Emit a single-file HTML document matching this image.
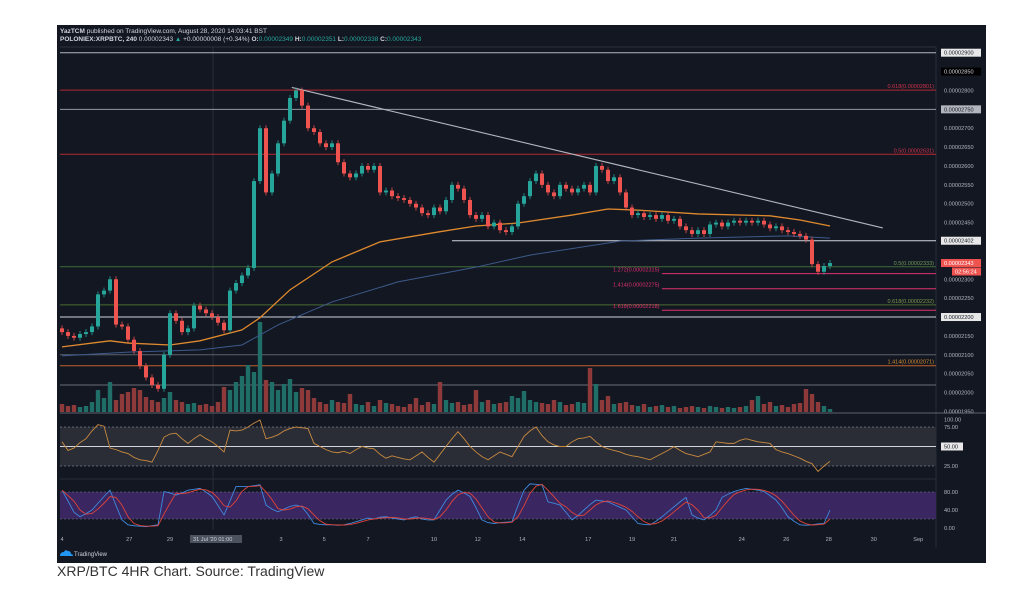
<!DOCTYPE html>
<html><head><meta charset="utf-8"><style>
html,body{margin:0;padding:0;background:#fff;width:1024px;height:613px;overflow:hidden}
svg{display:block}
.cap{position:absolute;left:57px;top:563px;font:14px "Liberation Sans",sans-serif;color:#333}
</style></head><body>
<svg id="chart" width="1024" height="613" font-family="Liberation Sans, sans-serif">
<rect x="57" y="25" width="929" height="538" fill="#131722"/>
<text x="60" y="33" font-size="6.5" fill="#d1d4dc"><tspan font-weight="bold">YazTCM</tspan> published on TradingView.com, August 28, 2020 14:03:41 BST</text>
<text x="60" y="41" font-size="6.5" fill="#d1d4dc"><tspan font-weight="bold">POLONIEX:XRPBTC, 240</tspan> 0.00002343 <tspan fill="#26a69a">▲</tspan> +0.00000008 (+0.34%) <tspan font-weight="bold">O:</tspan><tspan fill="#26a69a">0.00002349</tspan> <tspan font-weight="bold">H:</tspan><tspan fill="#26a69a">0.00002351</tspan> <tspan font-weight="bold">L:</tspan><tspan fill="#26a69a">0.00002338</tspan> <tspan font-weight="bold">C:</tspan><tspan fill="#26a69a">0.00002343</tspan></text>
<line x1="60" y1="47" x2="936" y2="47" stroke="#363a45" stroke-width="0.7"/>
<line x1="936" y1="47" x2="936" y2="548" stroke="#2a2e39" stroke-width="1"/>
<line x1="213" y1="47" x2="213" y2="530" stroke="#363a45" stroke-width="0.7"/>
<g id="g-levels"></g>
<g id="g-vol"></g>
<g id="g-ma"></g>
<g id="g-candles"></g>
<g id="g-axis"></g>
<g id="g-rsi"></g>
<g id="g-stoch"></g>
<g id="g-dates"></g>
<g>
<path d="M60 556 q0-4 4-4 q1-3 4-1 q3 0 3 3 q2 0 2 2 z" fill="#2196f3"/>
<text x="74" y="556" font-size="6" fill="#d1d4dc">TradingView</text>
</g>
</svg>
<div class="cap">XRP/BTC 4HR Chart. Source: TradingView</div>
<script>
const closes=[2160,2150,2145,2155,2160,2175,2260,2270,2300,2180,2175,2140,2110,2070,2040,2020,2010,2100,2210,2190,2160,2170,2230,2220,2210,2200,2185,2165,2270,2290,2310,2330,2560,2700,2530,2580,2660,2720,2780,2800,2760,2700,2690,2660,2650,2660,2610,2580,2570,2580,2600,2590,2600,2530,2535,2520,2515,2510,2500,2490,2475,2470,2490,2480,2510,2550,2540,2510,2470,2460,2470,2440,2450,2430,2425,2440,2500,2520,2560,2580,2550,2530,2520,2550,2540,2530,2540,2550,2530,2600,2590,2560,2570,2530,2490,2470,2475,2465,2470,2460,2470,2455,2460,2440,2430,2420,2430,2420,2445,2450,2440,2450,2455,2450,2455,2450,2455,2445,2435,2440,2430,2425,2420,2415,2405,2340,2320,2335,2343];
const firstOpen=2170;
const volumes=[8,6,7,5,6,10,22,14,30,12,18,20,24,22,15,12,10,14,20,12,10,8,9,7,8,6,10,25,22,30,36,47,40,90,32,30,22,28,33,20,24,22,14,10,8,12,10,9,18,8,7,10,6,12,9,8,6,5,8,14,7,10,8,30,12,9,10,7,8,22,10,12,8,9,10,16,14,21,12,10,9,8,12,10,7,8,10,9,44,28,12,16,8,9,10,7,6,8,5,6,7,5,6,4,5,6,5,4,6,5,4,5,4,5,6,12,16,8,10,6,7,5,8,9,23,18,10,6,3];
const rsi=[56,45,48,55,60,70,78,76,48,46,43,41,36,33,32,30,45,62,66,67,60,54,60,65,60,56,50,43,71,70,71,75,80,84,60,62,65,70,73,75,74,73,54,50,46,43,42,44,41,46,50,48,47,40,35,38,36,34,33,38,43,36,30,40,50,60,69,60,50,43,37,33,38,43,40,37,50,63,70,75,64,56,52,50,50,56,60,61,63,56,50,47,45,43,40,38,37,35,33,37,41,45,50,45,41,39,37,40,43,56,55,54,54,58,60,58,56,55,54,46,43,41,38,35,31,28,18,25,31];
const stochK=[84,60,35,25,32,40,55,70,84,50,18,7,5,4,3,5,7,81,78,73,78,84,86,88,80,70,50,29,60,92,92,92,94,96,51,42,36,42,48,51,47,30,10,8,7,7,6,7,10,14,18,22,20,24,25,22,20,18,22,25,20,18,18,40,62,75,84,78,70,45,18,12,10,12,13,14,50,84,98,97,96,58,55,51,35,18,28,40,52,62,60,58,52,46,40,25,10,8,7,15,25,36,47,58,68,29,22,18,28,40,68,75,81,85,88,86,84,81,72,62,45,25,15,7,6,7,9,10,40];
const ma100Idx=[0,8,11,18,23,30,33,38,45,53,63,69,76,85,91,96,106,118,123,128];
const ma100=[2121,2137,2131,2126,2137,2166,2198,2272,2346,2399,2426,2441,2449,2470,2486,2483,2473,2468,2457,2441];
const ma200Idx=[0,11,23,30,36,45,56,69,78,93,106,121,128];
const ma200=[2097,2107,2113,2126,2179,2240,2293,2332,2364,2401,2409,2415,2409];
const trendIdx=[38.3,136.8];
const trendPrice=[2808,2436];
const levelPrices=[2900,2801,2750,2631,2402,2333,2315,2275,2232,2218,2200,2100,2071,2020];
const levelColors=["#b2b5be","#b22833","#9598a1","#b22833","#d1d4dc","#3f6b3a","#e0306f","#e0306f","#4a6b30","#e0306f","#d1d4dc","#5d606b","#c0622a","#6a6d78"];
const levelStartIdx=[0,0,0,0,65,0,100,100,0,100,0,0,0,0];
const fibLabels=[["0.618(0.00002801)",2801,"#d0334a","end",934],["0.5(0.00002631)",2631,"#d0334a","end",934],["0.5(0.00002333)",2333,"#6f9a5a","end",934],["0.618(0.00002232)",2232,"#7f9a4a","end",934],["1.414(0.00002071)",2071,"#d08a30","end",934],["1.272(0.00002315)",2315,"#e0306f","start",613],["1.414(0.00002275)",2275,"#e0306f","start",613],["1.618(0.00002218)",2218,"#e0306f","start",613]];
const axisTicks=[2900,2850,2800,2750,2700,2650,2600,2550,2500,2450,2402,2343,2300,2250,2200,2150,2100,2050,2000,1950];
const dateLabels=["4","27","29","3","5","7","10","12","14","17","19","21","24","26","28","30","Sep"];
const dateIdx=[0,11.2,18,36.5,43.7,51,62,69.3,76.7,87.7,95,102,113.3,120.7,127.8,135.3,142.7];

const NS="http://www.w3.org/2000/svg";
const xOf=i=>62+6*i;
const yP=p=>52.7+(2900-p)*0.3776;
const yR=v=>446.5-(v-50)*0.78;
const yS=v=>528-v*0.45;
const yV=v=>412-v;
function mk(tag,attrs,parent){const e=document.createElementNS(NS,tag);for(const k in attrs)e.setAttribute(k,attrs[k]);parent.appendChild(e);return e;}
const gL=document.getElementById('g-levels'),gV=document.getElementById('g-vol'),gM=document.getElementById('g-ma'),gC=document.getElementById('g-candles'),gA=document.getElementById('g-axis'),gR=document.getElementById('g-rsi'),gS=document.getElementById('g-stoch'),gD=document.getElementById('g-dates');

levelPrices.forEach((p,k)=>{const l=mk('line',{x1:levelStartIdx[k]?xOf(levelStartIdx[k]):60,x2:936,y1:yP(p),y2:yP(p),stroke:levelColors[k],'stroke-width':1},gL);

});
fibLabels.forEach(f=>{const t=mk('text',{x:f[4],y:yP(f[1])-2,'font-size':5.5,fill:f[2],'text-anchor':f[3]},gL);t.textContent=f[0];

});

closes.forEach((c,i)=>{const o=i?closes[i-1]:firstOpen;const up=c>=o;const col=up?'#26a69a':'#ef5350';
const v=mk('rect',{x:xOf(i)-2.2,y:yV(volumes[i]),width:4.4,height:volumes[i],fill:up?'#1f6f68':'#8e3a3a'},gV);


const hi=Math.max(o,c)+8,lo=Math.min(o,c)-8;
const w=mk('line',{x1:xOf(i),x2:xOf(i),y1:yP(hi),y2:yP(lo),stroke:col,'stroke-width':0.8},gC);


const top=yP(Math.max(o,c)),h=Math.max(1,Math.abs(yP(o)-yP(c)));
const b=mk('rect',{x:xOf(i)-2,y:top,width:4,height:h,fill:col},gC);

});

function poly(idx,vals,yf,color,g,name,w){const pts=idx.map((ix,k)=>xOf(ix)+','+yf(vals[k])).join(' ');const p=mk('polyline',{points:pts,fill:'none',stroke:color,'stroke-width':w||1},g);

return p;}
poly(ma200Idx,ma200,yP,'#3d5a8a',gM,'ma200-line',1);
poly(ma100Idx,ma100,yP,'#e08a2e',gM,'ma100-line',1.3);
poly(trendIdx,trendPrice,yP,'#b2b5be',gM,'trendline',1.1);

axisTicks.forEach(p=>{const y=yP(p);let bg=null,fc='#b2b5be';
if(p===2900||p===2402||p===2200){bg='#e8e8e8';fc='#131722';}
if(p===2750){bg='#b2b5be';fc='#131722';}
if(p===2850){bg='#000';fc='#d1d4dc';}
if(p===2343){bg='#ef5350';fc='#fff';}
if(bg){const r=mk('rect',{x:941,y:y-4,width:40,height:8,fill:bg},gA);

}
const t=mk('text',{x:944,y:y+2,'font-size':5.6,fill:fc},gA);t.textContent='0.0000'+p;

});
const tr=mk('rect',{x:952,y:yP(2343)+4.5,width:29,height:8,fill:'#ef5350'},gA);


const tt=mk('text',{x:955,y:yP(2343)+10.5,'font-size':5.6,fill:'#fff'},gA);tt.textContent='02:56:24';



// separators
mk('line',{x1:60,x2:986,y1:413,y2:413,stroke:'#787b86','stroke-width':0.8},gR);
mk('line',{x1:60,x2:936,y1:479,y2:479,stroke:'#2a2e39','stroke-width':1},gR);
const rb=mk('rect',{x:60,y:yR(75),width:876,height:yR(25)-yR(75),fill:'#2a2d36'},gR);


[75,25].forEach(v=>mk('line',{x1:60,x2:936,y1:yR(v),y2:yR(v),stroke:'#787b86','stroke-width':0.7,'stroke-dasharray':'2,2'},gR));
mk('line',{x1:60,x2:936,y1:yR(50),y2:yR(50),stroke:'#d1d4dc','stroke-width':1},gR);
poly(rsi.map((_,i)=>i),rsi,yR,'#c98a3f',gR,'rsi-line',0.9);
[['100.00',84.7],['75.00',75],['25.00',25]].forEach(a=>{const t=mk('text',{x:944,y:yR(a[1])+2,'font-size':5.6,fill:'#b2b5be'},gR);t.textContent=a[0];

});
mk('rect',{x:941,y:yR(50)-4,width:22,height:8,fill:'#e8e8e8'},gR);
const t50=mk('text',{x:944,y:yR(50)+2,'font-size':5.6,fill:'#131722'},gR);t50.textContent='50.00';



const sb=mk('rect',{x:60,y:yS(80),width:876,height:yS(20)-yS(80),fill:'#3a2660'},gS);


[80,20].forEach(v=>mk('line',{x1:60,x2:936,y1:yS(v),y2:yS(v),stroke:'#787b86','stroke-width':0.6,'stroke-dasharray':'2,2'},gS));
const stochD=stochK.map((v,i)=>{const a=stochK.slice(Math.max(0,i-2),i+1);return a.reduce((s,x)=>s+x,0)/a.length;});
poly(stochK.map((_,i)=>i),stochK,yS,'#3f8ae0',gS,'stoch-k-line',0.9);
poly(stochD.map((_,i)=>i),stochD,yS,'#e0443a',gS,'stoch-d-line',0.9);
[['80.00',80],['40.00',40],['0.00',0]].forEach(a=>{const t=mk('text',{x:944,y:yS(a[1])+2,'font-size':5.6,fill:'#b2b5be'},gS);t.textContent=a[0];

});

dateLabels.forEach((d,k)=>{const t=mk('text',{x:xOf(dateIdx[k]),y:541,'font-size':5.6,fill:'#b2b5be','text-anchor':'middle'},gD);t.textContent=d;

});
const db=mk('rect',{x:190,y:535,width:52,height:8,fill:'#4c525e'},gD);


const dt=mk('text',{x:193,y:541,'font-size':5.6,fill:'#d1d4dc'},gD);dt.textContent="31 Jul '20  01:00";


</script>
</body></html>
